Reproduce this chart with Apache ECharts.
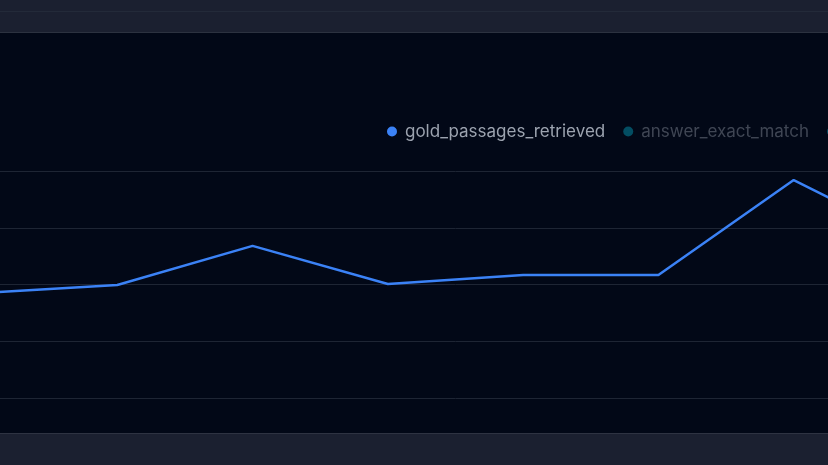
<!DOCTYPE html>
<html>
<head>
<meta charset="utf-8">
<script src="https://cdn.jsdelivr.net/npm/echarts@6/dist/echarts.min.js"></script>
<style>
  html, body { margin: 0; padding: 0; width: 828px; height: 465px; overflow: hidden; background: #020817; }
  #top-bar { position: absolute; left: 0; top: 0; width: 828px; height: 32px; background: #1b2030; border-bottom: 1px solid #2c3240; }
  #top-bar .rule { position: absolute; left: 0; top: 11px; width: 100%; height: 1px; background: #232a39; }
  #bottom-bar { position: absolute; left: 0; top: 433px; width: 828px; height: 32px; background: #1b2030; border-top: 1px solid #2e3342; }
  #chart { position: absolute; left: -18px; top: 33px; width: 947px; height: 400px; }
</style>
</head>
<body>
<div id="top-bar"><div class="rule"></div></div>
<div id="chart"></div>
<div id="bottom-bar"></div>
<script>
  // runs visible in this slice of the chart
  const runs = ["r1", "r2", "r3", "r4", "r5", "r6", "r7", "r8"];
  const goldPassagesRetrieved = [0.462, 0.498, 0.67, 0.502, 0.542, 0.542, 0.96, 0.662];
  // hidden in the picture, only shown in the legend
  const answerExactMatch = [];
  const answerF1 = [];

  const chart = echarts.init(document.getElementById("chart"));
  const dimText = "rgba(156, 163, 175, 0.4)";

  const options = {
    backgroundColor: "transparent",
    textStyle: { fontFamily: "Inter, 'Noto Sans', sans-serif" },
    legend: {
      type: "plain",
      left: 405,
      top: 90,
      width: 900,
      padding: 0,
      itemGap: 18,
      itemWidth: 10,
      itemHeight: 10,
      icon: "circle",
      textStyle: { color: "#9ca3af", fontSize: 17, padding: [0, 0, 0, 3] },
      data: [
        { name: "gold_passages_retrieved" },
        {
          name: "answer_exact_match",
          itemStyle: { color: "rgba(6, 182, 212, 0.4)" },
          textStyle: { color: dimText },
        },
        {
          name: "answer_f1",
          itemStyle: { color: "rgba(6, 182, 212, 0.4)" },
          textStyle: { color: dimText },
        },
      ],
    },
    grid: { left: 0, right: 0, top: 138, bottom: 35 },
    xAxis: {
      type: "category",
      data: runs,
      boundaryGap: false,
      axisLine: { show: false },
      axisTick: { show: false },
      axisLabel: { show: false },
    },
    yAxis: {
      type: "value",
      min: 0,
      max: 1,
      interval: 0.25,
      axisLabel: { show: false },
      splitLine: { lineStyle: { color: "#1e2534", width: 1 } },
    },
    series: [
      {
        name: "gold_passages_retrieved",
        type: "line",
        data: goldPassagesRetrieved,
        showSymbol: false,
        color: "#3b82f6",
        lineStyle: { width: 2.5 },
      },
      {
        name: "answer_exact_match",
        type: "line",
        data: answerExactMatch,
        showSymbol: false,
        color: "#06b6d4",
      },
      {
        name: "answer_f1",
        type: "line",
        data: answerF1,
        showSymbol: false,
        color: "#06b6d4",
      },
    ],
  };
  chart.setOption(options);
</script>
</body>
</html>
